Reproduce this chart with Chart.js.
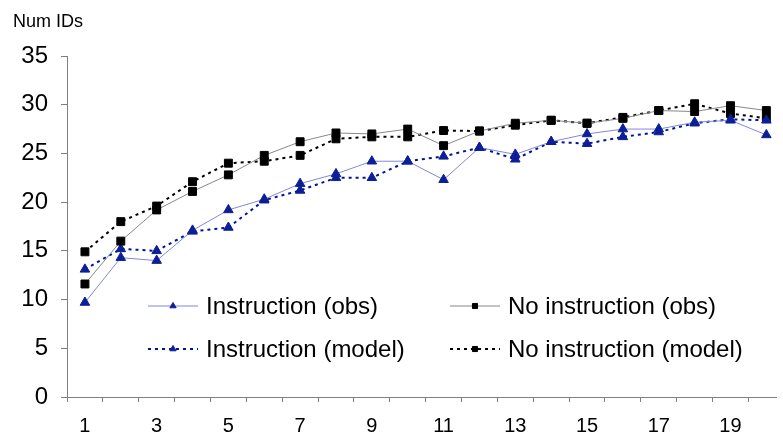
<!DOCTYPE html>
<html><head><meta charset="utf-8">
<script src="https://cdn.jsdelivr.net/npm/chart.js@4/dist/chart.umd.min.js"></script>
<style>html,body{margin:0;padding:0;background:#fff}#wrap{width:783px;height:437px;position:relative}</style>
</head><body><div id="wrap"><canvas id="c" width="783" height="437"></canvas></div>
<script>
// ---- data ----
const categories = [1,2,3,4,5,6,7,8,9,10,11,12,13,14,15,16,17,18,19,20];
const xTickLabels = ['1','3','5','7','9','11','13','15','17','19'];
const yTicks = [0,5,10,15,20,25,30,35];
const yAxisTitle = 'Num IDs';
const seriesNames = ['Instruction (obs)','No instruction (obs)','Instruction (model)','No instruction (model)'];
const instrObs    = [9.7,14.3,14.0,17.1,19.2,20.3,21.9,22.9,24.2,24.2,22.3,25.6,24.9,26.2,27.0,27.5,27.5,28.2,28.4,26.9];
const noInstrObs  = [11.6,16.0,19.2,21.1,22.8,24.8,26.2,27.1,27.0,27.5,25.8,27.3,28.1,28.4,28.1,28.6,29.4,29.3,29.9,29.4];
const instrModel  = [13.1,15.2,15.0,17.0,17.4,20.2,21.2,22.5,22.5,24.2,24.7,25.6,24.4,26.2,26.0,26.7,27.2,28.1,28.5,28.4];
const noInstrModel= [14.9,18.0,19.6,22.1,24.0,24.2,24.8,26.5,26.7,26.7,27.35,27.3,27.9,28.4,28.1,28.7,29.4,30.1,29.1,28.6];

const FONT = '"Liberation Sans", Arial, Helvetica, sans-serif';
const toXY = vals => categories.map((c,i)=>({x:c, y:vals[i]}));

const datasets = [
  {label: seriesNames[0], data: toXY(instrObs), borderColor:'#8088da', borderWidth:1, borderDash:[],
   pointStyle:'triangle', pointRadius:5.5, pointBackgroundColor:'#0c1f96', pointBorderColor:'#0c1f96', pointBorderWidth:1},
  {label: seriesNames[1], data: toXY(noInstrObs), borderColor:'#888888', borderWidth:1, borderDash:[],
   pointStyle:'rect', pointRadius:5.6, pointBackgroundColor:'#000', pointBorderColor:'#000', pointBorderWidth:1},
  {label: seriesNames[2], data: toXY(instrModel), borderColor:'#00149a', borderWidth:2, borderDash:[3,4],
   pointStyle:'triangle', pointRadius:5.5, pointBackgroundColor:'#0c1f96', pointBorderColor:'#0c1f96', pointBorderWidth:1},
  {label: seriesNames[3], data: toXY(noInstrModel), borderColor:'#000', borderWidth:2, borderDash:[3,4],
   pointStyle:'rect', pointRadius:5.6, pointBackgroundColor:'#000', pointBorderColor:'#000', pointBorderWidth:1}
];

const legendPlugin = {
  id:'customLegend',
  afterDraw(chart){
    const ctx = chart.ctx;
    const cols = [148, 450], rows = [306, 349];
    const lineLen = 50, textGap = 8;
    ctx.save();
    chart.data.datasets.forEach((ds,i)=>{
      const x0 = cols[i%2], y = rows[Math.floor(i/2)];
      ctx.strokeStyle = ds.borderColor; ctx.lineWidth = ds.borderWidth;
      ctx.setLineDash(ds.borderDash||[]);
      ctx.beginPath(); ctx.moveTo(x0,y); ctx.lineTo(x0+lineLen,y); ctx.stroke();
      ctx.setLineDash([]);
      ctx.fillStyle = ds.pointBackgroundColor; ctx.strokeStyle = ds.pointBorderColor; ctx.lineWidth = 1;
      Chart.helpers.drawPoint(ctx, {pointStyle: ds.pointStyle, radius: 3.6, rotation:0, borderWidth:1}, x0+lineLen/2, y);
      ctx.fillStyle = '#000'; ctx.font = '24px ' + FONT; ctx.textBaseline = 'alphabetic'; ctx.textAlign='left';
      ctx.fillText(ds.label, x0+lineLen+textGap, y+7.5);
    });
    ctx.fillStyle = '#000'; ctx.font = '18px ' + FONT;
    ctx.fillText(yAxisTitle, 13, 27);
    ctx.restore();
  }
};

new Chart(document.getElementById('c'), {
  type:'line',
  data:{datasets},
  options:{
    responsive:false, animation:false, devicePixelRatio:1,
    layout:{padding:{top:56, right:0, left:0, bottom:0}},
    elements:{line:{tension:0, fill:false}},
    plugins:{legend:{display:false}, tooltip:{enabled:false}, title:{display:false}},
    scales:{
      x:{type:'linear', min:0.5, max:20.28,
        afterBuildTicks(scale){
          const t=[]; categories.forEach(c=>{t.push({value:c-0.5}); t.push({value:c});});
          scale.ticks = t;
        },
        afterFit(scale){ scale.height = 40; },
        border:{color:'#808080', width:1},
        grid:{drawOnChartArea:false, drawTicks:true, tickLength:5, lineWidth:1,
          color:(c)=> (c.tick && c.tick.value % 1 !== 0) ? '#808080' : 'rgba(0,0,0,0)'},
        ticks:{autoSkip:false, maxRotation:0, padding:12, color:'#000', font:{family:FONT, size:20},
          callback:(v)=>{ const s=String(v); return xTickLabels.includes(s) ? s : ''; }}
      },
      y:{type:'linear', min:0, max:35,
        afterBuildTicks(scale){ scale.ticks = yTicks.map(v=>({value:v})); },
        afterFit(scale){ scale.width = 67; },
        border:{color:'#808080', width:1},
        grid:{drawOnChartArea:false, drawTicks:true, tickLength:6, color:'#808080'},
        ticks:{padding:13, color:'#000', font:{family:FONT, size:24}}
      }
    }
  },
  plugins:[legendPlugin]
});
</script></body></html>
